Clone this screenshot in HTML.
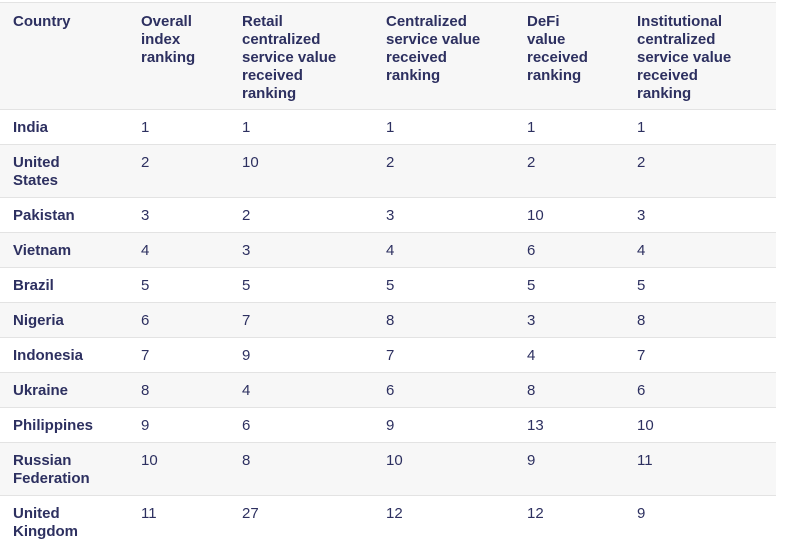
<!DOCTYPE html>
<html><head><meta charset="utf-8"><style>
body{margin:0;width:786px;height:548px;overflow:hidden;background:#fff;font-family:"Liberation Sans",sans-serif;color:#2d3060;}
.row{position:absolute;left:0;width:776px;border-top:1px solid #e3e3e3;box-sizing:border-box;}
.g{background:#f7f7f7}
.c{position:absolute;font-size:15px;line-height:18px;white-space:nowrap;}
.b{font-weight:bold;}
</style></head><body>
<div>
<div class="row g" style="top:2px;height:107px">
<div class="c b" style="left:13px;top:10px">Country</div>
<div class="c b" style="left:141px;top:10px">Overall<br>index<br>ranking</div>
<div class="c b" style="left:242px;top:10px">Retail<br>centralized<br>service value<br>received<br>ranking</div>
<div class="c b" style="left:386px;top:10px">Centralized<br>service value<br>received<br>ranking</div>
<div class="c b" style="left:527px;top:10px">DeFi<br>value<br>received<br>ranking</div>
<div class="c b" style="left:637px;top:10px">Institutional<br>centralized<br>service value<br>received<br>ranking</div>
</div>
<div id="body"></div>
</div>
<script>
const countries=["India","United<br>States","Pakistan","Vietnam","Brazil","Nigeria","Indonesia","Ukraine","Philippines","Russian<br>Federation","United<br>Kingdom"];
const overall=[1,2,3,4,5,6,7,8,9,10,11];
const retail=[1,10,2,3,5,7,9,4,6,8,27];
const centralized=[1,2,3,4,5,8,7,6,9,10,12];
const defi=[1,2,10,6,5,3,4,8,13,9,12];
const institutional=[1,2,3,4,5,8,7,6,10,11,9];
const xs=[141,242,386,527,637];
const body=document.getElementById('body');
let y=109;
countries.forEach((c,i)=>{
  const h=c.includes('<br>')?53:35;
  const r=document.createElement('div');
  r.className='row'+(i%2?' g':'');
  r.style.top=y+'px';r.style.height=h+'px';
  
  
  const n=document.createElement('div');
  n.className='c b';n.style.left='13px';n.style.top='9px';n.innerHTML=c;
  
  
  r.appendChild(n);
  [overall,retail,centralized,defi,institutional].forEach((arr,j)=>{
    const d=document.createElement('div');
    d.className='c';d.style.left=xs[j]+'px';d.style.top='9px';d.textContent=arr[i];
    
    
    r.appendChild(d);
  });
  body.appendChild(r);
  y+=h;
});
</script>
</body></html>
